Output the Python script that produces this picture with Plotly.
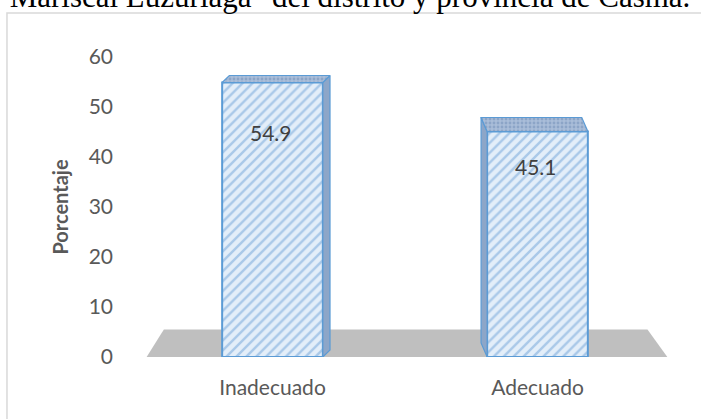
"""Porcentaje por categoría: barras 3D con trama diagonal, estilo Excel."""
import plotly.graph_objects as go

categorias = ["Inadecuado", "Adecuado"]
porcentajes = [54.9, 45.1]
y_ticks = [0, 10, 20, 30, 40, 50, 60]
titulo_cortado = '"Mariscal Luzuriaga" del distrito y provincia de Casma.'

# perspective offsets of the 3D faces (style only)
BAR_W = 0.38
DEPTH_X = [0.027, -0.023]
DEPTH_Y = [1.4, 2.8]
LABEL_SHIFT = [-50, -35]

TXT = "#595959"
BLUE = "#5b9bd5"
FONT = "Lato"

xs = list(range(len(categorias)))

fig = go.Figure()

# side and top faces of each bar, built from its value
for i, v in enumerate(porcentajes):
    x0, x1 = xs[i] - BAR_W / 2, xs[i] + BAR_W / 2
    dx, dy = DEPTH_X[i], DEPTH_Y[i]
    xe = x1 if dx > 0 else x0
    fig.add_trace(go.Scatter(
        x=[xe, xe, xe + dx, xe + dx, xe],
        y=[0, v, v + dy, dy, 0],
        mode="lines", fill="toself", fillcolor="#8da6c8",
        line={"color": BLUE, "width": 1.2},
        hoverinfo="skip", showlegend=False,
    ))
    fig.add_trace(go.Scatter(
        x=[x0, x1, x1 + dx, x0 + dx, x0],
        y=[v, v, v + dy, v + dy, v],
        mode="lines", fill="toself", fillcolor="#97aecd",
        fillpattern={"shape": ".", "fgcolor": "#6f8db5", "bgcolor": "#a9bdd8",
                     "size": 4, "solidity": 0.4},
        line={"color": BLUE, "width": 1.2},
        hoverinfo="skip", showlegend=False,
    ))

fig.add_trace(go.Bar(
    x=xs,
    y=porcentajes,
    width=BAR_W,
    marker=dict(
        color="#deebf7",
        line={"color": BLUE, "width": 2},
        pattern={"shape": "/", "fgcolor": "#6fa3d8", "bgcolor": "#e3eef9",
                 "size": 7, "solidity": 0.35},
    ),
    hoverinfo="skip",
    showlegend=False,
))

for x, v, sh in zip(xs, porcentajes, LABEL_SHIFT):
    fig.add_annotation(
        x=x, y=v, yshift=sh, xshift=-2, text=f"{v:.1f}", showarrow=False,
        font={"family": FONT, "size": 21, "color": "#404040"},
    )

# gray floor of the 3D chart
fig.add_shape(
    type="path", xref="x", yref="y", layer="below",
    path="M -0.475 0 L -0.41 5.5 L 1.415 5.5 L 1.49 0 Z",
    fillcolor="#bfbfbf", line={"width": 0},
)

# chart area border (cut off on the right and bottom)
fig.add_shape(
    type="rect", xref="paper", yref="paper",
    x0=-0.251, x1=1.3, y0=-0.5, y1=1.1467,
    line={"color": "#d9d9d9", "width": 1.5}, fillcolor="rgba(0,0,0,0)",
)

# document text above the chart, cut by the top edge
fig.add_annotation(
    xref="paper", yref="paper", x=1.0415, y=1.137,
    xanchor="right", yanchor="bottom", text=titulo_cortado, showarrow=False,
    font={"family": "Liberation Serif", "size": 31, "color": "#000000"},
)

fig.update_layout(
    width=701,
    height=419,
    margin=dict(l=140, r=31, t=57, b=62),
    paper_bgcolor="white",
    plot_bgcolor="white",
    xaxis=dict(
        range=[-0.5, 1.5],
        tickvals=xs,
        ticktext=categorias,
        showgrid=False,
        zeroline=False,
        showline=False,
        ticklabelstandoff=16,
        tickfont={"family": FONT, "size": 21, "color": TXT},
    ),
    yaxis=dict(
        range=[0, 60],
        tickvals=y_ticks,
        showgrid=False,
        zeroline=False,
        showline=False,
        ticklabelstandoff=26,
        tickfont={"family": FONT, "size": 21, "color": TXT},
        title=dict(text="<b>Porcentaje</b>", standoff=14,
                   font={"family": FONT, "size": 20, "color": TXT}),
    ),
)

fig.write_html(
    "out.html",
    config={"displayModeBar": False},
    post_script="document.body.style.margin='0';",
)
